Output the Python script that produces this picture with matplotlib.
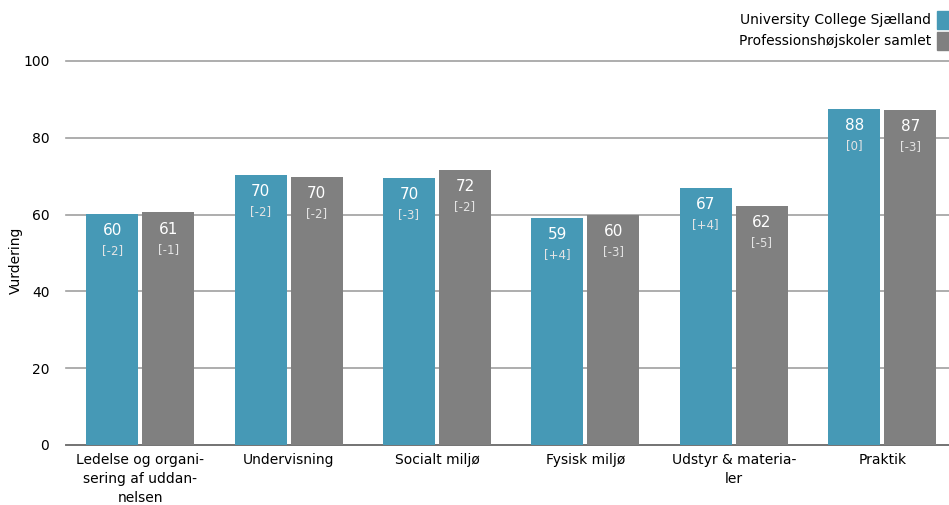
import matplotlib
matplotlib.use("Agg")
import matplotlib.pyplot as plt
from matplotlib.patches import Rectangle

categories = ["Ledelse og organi-\nsering af uddan-\nnelsen", "Undervisning", "Socialt miljø",
              "Fysisk miljø", "Udstyr & materia-\nler", "Praktik"]
ucs_values = [60.2, 70.3, 69.6, 59.1, 66.9, 87.5]
ucs_changes = ["[-2]", "[-2]", "[-3]", "[+4]", "[+4]", "[0]"]
all_values = [60.6, 69.8, 71.6, 59.9, 62.2, 87.2]
all_changes = ["[-1]", "[-2]", "[-2]", "[-3]", "[-5]", "[-3]"]
series_names = ["University College Sjælland", "Professionshøjskoler samlet"]
yticks = [0, 20, 40, 60, 80, 100]

teal = "#4699b6"
gray = "#808080"

plt.rcParams['font.family'] = ['DejaVu Sans']
fig = plt.figure(figsize=(9.49, 5.05), dpi=100)
ax = fig.add_axes([66/949, 1 - 445/505, 1 - 66/949, (445 - 61)/505])

x = list(range(len(categories)))
w = 0.35
off = 0.189
for i in x:
    for val, chg, col, sgn in [(ucs_values[i], ucs_changes[i], teal, -1), (all_values[i], all_changes[i], gray, 1)]:
        xc = i + sgn * off
        ax.bar(xc, val, width=w, color=col, zorder=3)
        ax.text(xc, val - 2.4, f"{val:.0f}", ha='center', va='top', color='white', fontsize=11, zorder=4)
        ax.text(xc, val - 7.9, chg, ha='center', va='top', color='#e4e4e4', fontsize=8.5, zorder=4)

ax.set_xlim(-0.5, 5.45)
ax.set_ylim(0, 100)
ax.set_yticks(yticks)
ax.set_xticks(x)
ax.set_xticklabels(categories, fontsize=10, linespacing=1.45)
ax.tick_params(axis='both', length=0, labelsize=10)
ax.tick_params(axis='y', pad=12)
ax.tick_params(axis='x', pad=6)
ax.grid(axis='y', color='#a0a0a0', linewidth=1.2, zorder=0)
for gl in ax.get_ygridlines():
    gl.set_clip_on(False)
for s in ['top', 'right', 'left']:
    ax.spines[s].set_visible(False)
ax.spines['bottom'].set_color('#707070')
ax.spines['bottom'].set_linewidth(1.3)
fig.text(16/949, 1 - 260/505, "Vurdering", rotation=90, ha='center', va='center', fontsize=10)

# legend
for j, (name, col) in enumerate(zip(series_names, [teal, gray])):
    yc = 20 + j * 21
    fig.text(931/949, 1 - yc/505, name, ha='right', va='center', fontsize=10)
    fig.patches.append(Rectangle((937/949, 1 - (yc + 9)/505), 14/949, 18/505,
                                 transform=fig.transFigure, color=col, figure=fig))

fig.savefig("out.png", dpi=100)
